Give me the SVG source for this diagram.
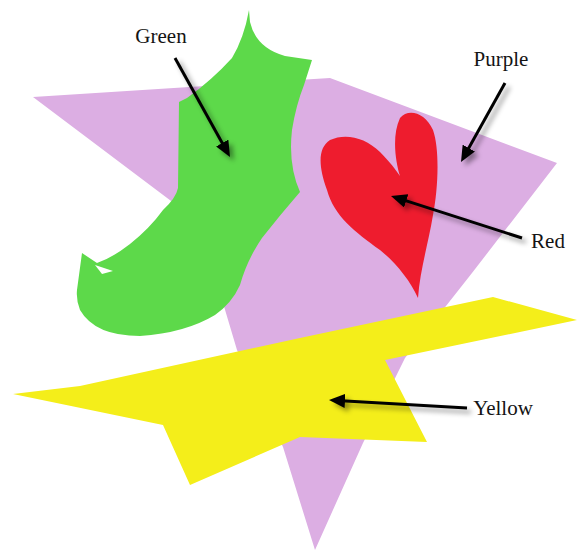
<svg xmlns="http://www.w3.org/2000/svg" width="579" height="554" viewBox="0 0 579 554">
  <style>
    .lbl { font-family: "Liberation Serif", "Times New Roman", serif; font-size: 21px; fill: #141414; text-anchor: middle; }
    .arr { stroke: #000; stroke-width: 3; fill: none; marker-end: url(#head); }
  </style>
  <defs>
    <marker id="head" markerUnits="userSpaceOnUse" markerWidth="16" markerHeight="14" refX="8" refY="7" orient="auto">
      <path d="M0,0 L16,7 L0,14 Z" fill="#000"/>
    </marker>
    <filter id="shadow" x="-20%" y="-20%" width="140%" height="140%">
      <feDropShadow dx="4" dy="4" stdDeviation="2.5" flood-color="#000" flood-opacity="0.4"/>
    </filter>
  </defs>
  <rect width="579" height="554" fill="#fff"/>
  <g id="purple">
    <polygon points="33,97 330,78 557,163 472,273 405,358 363,443 315,550 283,447 237,350 223,303 195,219" fill="#dcaee3"/>
  </g>
  <g id="green">
    <path d="M249,10 L250,22 Q256,48 285,56 L312,60 L304,85 Q296,105 292,130 Q288,165 300,192 Q280,215 262,238 Q247,260 240,285 Q232,303 215,315 Q185,333 140,336 Q95,336 80,310 Q76,300 77,290 L82,253 L97,263 Q112,258 130,244 Q150,228 163,210 Q176,198 178,188 L179,102 L187,98 Q212,80 232,58 Q244,38 249,10 Z" fill="#5dd94a"/>
    <polygon points="95,265 113,271 102,274" fill="#fff"/>
  </g>
  <g id="red">
    <path d="M418,298 C410,280 395,262 380,250 C355,232 334,216 327,190 C318,165 318,148 330,140 C345,133 365,137 380,152 C390,162 396,170 400,176 C395,160 392,135 400,118 C408,108 425,112 433,130 C440,150 438,190 433,215 C428,245 420,270 418,298 Z" fill="#ee1c2e"/>
  </g>
  <g id="yellow">
    <polygon points="13,394 80,386 300,338 493,297 577,320 385,360 427,442 300,437 190,485 163,425" fill="#f4ee1a"/>
  </g>
  <g id="connectors" filter="url(#shadow)">
    <line class="arr" x1="175" y1="58" x2="226.1" y2="150"/>
    <line class="arr" x1="505" y1="83" x2="464.9" y2="155"/>
    <line class="arr" x1="522" y1="238" x2="398.6" y2="198.4"/>
    <line class="arr" x1="467" y1="408" x2="337" y2="400.5"/>
  </g>
  <g id="labels">
    <text class="lbl" x="161" y="43">Green</text>
    <text class="lbl" x="501" y="66">Purple</text>
    <text class="lbl" x="548" y="248">Red</text>
    <text class="lbl" x="503" y="415">Yellow</text>
  </g>
</svg>
